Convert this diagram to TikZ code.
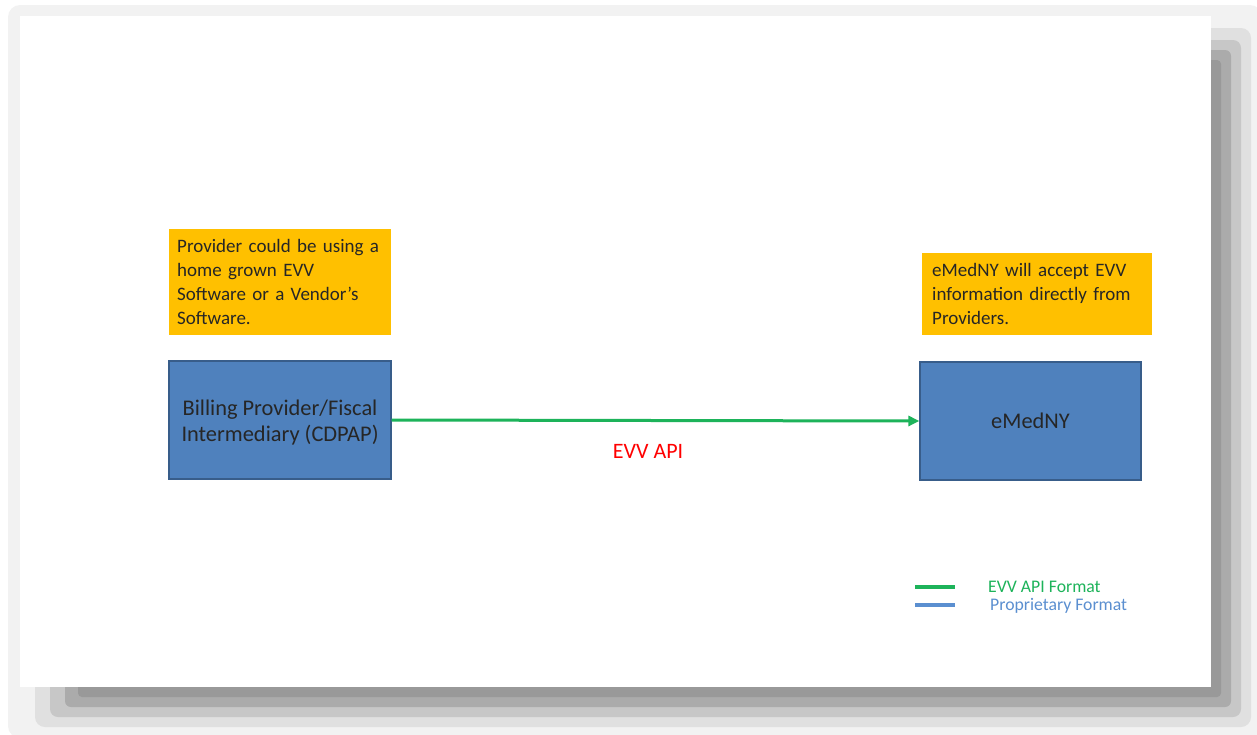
\documentclass[tikz,border=0pt]{standalone}
\usepackage{fontspec}
\setmainfont{Carlito}
\usetikzlibrary{arrows.meta}
\definecolor{boxblue}{HTML}{4F81BD}
\definecolor{boxedge}{HTML}{385D8A}
\definecolor{noteorange}{HTML}{FFC000}
\definecolor{apigreen}{HTML}{1DB35A}
\definecolor{legblue}{HTML}{5B8FD0}
\tikzset{note/.style={fill=noteorange, align=left, inner xsep=8pt, inner ysep=10pt, text=black!85,
    font=\fontsize{19}{24}\selectfont, anchor=north west}}
\tikzset{sysbox/.style={fill=boxblue, draw=boxedge, line width=1.2pt, align=center,
    text=black!85, font=\fontsize{22.4}{26}\selectfont}}
\tikzset{apiline/.style={apigreen, line width=3pt}}
\tikzset{legtext/.style={anchor=west, inner sep=0pt, font=\fontsize{17.7}{20}\selectfont}}
\begin{document}
\begin{tikzpicture}[x=1pt, y=-1pt]
    \useasboundingbox (0,0) rectangle (1257,734);
    % slide shadow
    \fill[black!5, rounded corners=12pt] (8,5) rectangle (1262,738);
    \fill[black!12, rounded corners=10pt] (35,28) rectangle (1251,727);
    \fill[black!22, rounded corners=8pt] (50,40) rectangle (1241,717);
    \fill[black!33, rounded corners=6pt] (65,50) rectangle (1231,707);
    \fill[black!40, rounded corners=4pt] (78,60) rectangle (1221,697);
    \fill[white] (20,16) rectangle (1211,687);
    % notes
    \node[note, text width=206pt, minimum width=222pt, minimum height=104pt] (provnote) at (169,229)
        {Provider could be using a\\home grown EVV\\Software or a Vendor’s\\Software.};
    \node[note, inner xsep=10pt, text width=210pt, minimum width=230pt, minimum height=80pt] (mednote) at (922,253)
        {eMedNY will accept EVV\\information directly from\\Providers.};
    % systems
    \node[sysbox, minimum width=222pt, minimum height=118pt] (provider) at (280,420)
        {\rule{0pt}{20pt}Billing Provider/Fiscal\\Intermediary (CDPAP)};
    \node[sysbox, minimum width=221pt, minimum height=118pt] (emedny) at (1030.5,421) {eMedNY};
    \draw[apiline, -{Triangle[length=11pt,width=10pt]}] (provider.east) -- (emedny.west);
    \node[text=red, font=\fontsize{22}{24}\selectfont] (apilabel) at (648,451) {EVV API};
    % legend
    \coordinate (greena) at (915,587);
    \coordinate (greenb) at (955,587);
    \coordinate (bluea) at (915,605);
    \coordinate (blueb) at (955,605);
    \draw[apigreen, line width=4pt] (greena) -- (greenb);
    \draw[legblue, line width=4pt] (bluea) -- (blueb);
    \node[legtext, text=apigreen] (apifmt) at (988,587) {EVV API Format};
    \node[legtext, text=legblue] (propfmt) at (990,606) {Proprietary Format};
\end{tikzpicture}
\end{document}
